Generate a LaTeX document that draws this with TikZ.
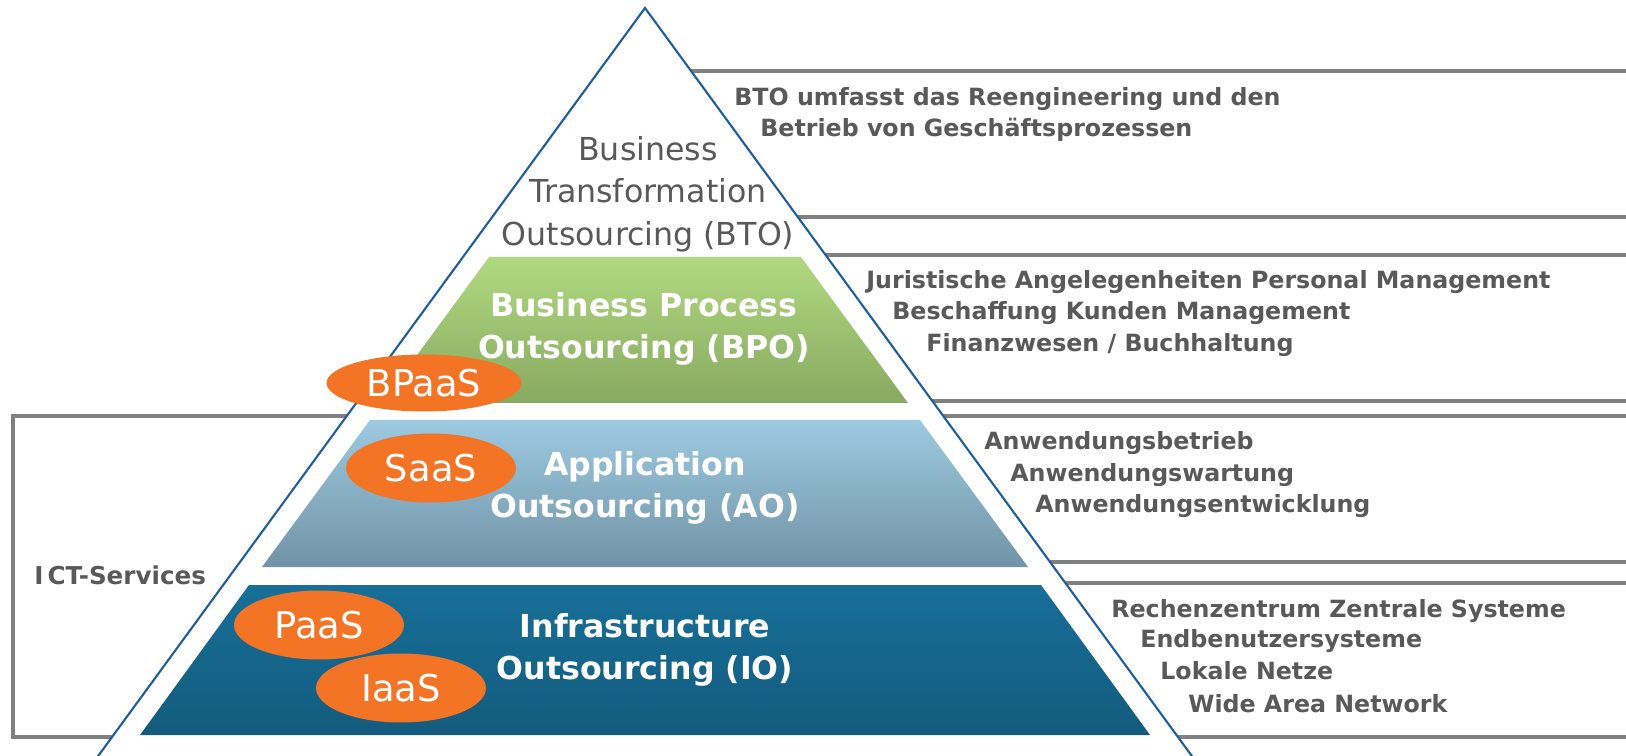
\documentclass[tikz,border=0pt]{standalone}
\usepackage{fontspec}
\setmainfont{DejaVu Sans}
\usepackage{tikz}
\usetikzlibrary{shapes.geometric}

\definecolor{linegray}{HTML}{808080}
\definecolor{textgray}{HTML}{595959}
\definecolor{pyrblue}{HTML}{1F5E9A}
\definecolor{aasorange}{HTML}{F27424}
\definecolor{bpotop}{HTML}{B0D97F}
\definecolor{bpobot}{HTML}{88A961}
\definecolor{aotop}{HTML}{9DCAE1}
\definecolor{aobot}{HTML}{7193A6}
\definecolor{iotop}{HTML}{176F98}
\definecolor{iobot}{HTML}{135B7D}

\begin{document}
\begin{tikzpicture}[x=0.02cm, y=-0.02cm,
    tierbox/.style={draw=linegray, line width=2pt},
    desc/.style={anchor=base west, inner sep=0pt, text=textgray,
      font=\fontsize{13.5}{16}\selectfont\bfseries},
    layer/.style={text=white, align=center,
      font=\fontsize{18}{23.6}\selectfont\bfseries},
    aas/.style={ellipse, fill=aasorange, text=white, inner sep=0pt,
      minimum width=3.4cm, minimum height=1.38cm,
      font=\fontsize{21}{21}\selectfont}]

    \useasboundingbox (0,0) rectangle (1626,756);
    \clip (0,0) rectangle (1626,756);

    % boxes behind the pyramid
    \draw[tierbox] (645,71)  rectangle (1700,217);
    \draw[tierbox] (645,255) rectangle (1700,401);
    \draw[tierbox] (645,416) rectangle (1700,562);
    \draw[tierbox] (645,583) rectangle (1700,737);
    \draw[tierbox] (13,416)  rectangle (645,737);

    % pyramid
    \draw[pyrblue, line width=1.2pt, fill=white] (645,8) -- (66,800) -- (1224,800) -- cycle;

    \shade[top color=bpotop, bottom color=bpobot] (489,257) -- (801,257) -- (908,403) -- (382,403) -- cycle;
    \shade[top color=aotop, bottom color=aobot] (370,420) -- (920,420) -- (1028,567) -- (262,567) -- cycle;
    \shade[top color=iotop, bottom color=iobot] (249,585) -- (1041,585) -- (1150,735) -- (140,735) -- cycle;

    \node[text=textgray, align=center, font=\fontsize{18}{24.2}\selectfont] (bto) at (648,194)
      {Business\\Transformation\\Outsourcing (BTO)};
    \node[layer] (bpo) at (644,329) {Business Process\\Outsourcing (BPO)};
    \node[layer] (ao)  at (645,488) {Application\\Outsourcing (AO)};
    \node[layer] (io)  at (645,650) {Infrastructure\\Outsourcing (IO)};

    \node[aas, minimum width=3.9cm, minimum height=1.14cm] (bpaas) at (424,383) {BPaaS};
    \node[aas] (saas) at (431,468) {SaaS};
    \node[aas] (paas) at (319,625) {PaaS};
    \node[aas] (iaas) at (401,688) {IaaS};

    \node[desc] (bto1) at (734,106) {BTO umfasst das Reengineering und den};
    \node[desc] (bto2) at (760,137) {Betrieb von Geschäftsprozessen};

    \node[desc] (bpo1) at (866,289) {Juristische Angelegenheiten Personal Management};
    \node[desc] (bpo2) at (892,320) {Beschaffung Kunden Management};
    \node[desc] (bpo3) at (926,352) {Finanzwesen / Buchhaltung};

    \node[desc] (ao1) at (984,450)  {Anwendungsbetrieb};
    \node[desc] (ao2) at (1010,482) {Anwendungswartung};
    \node[desc] (ao3) at (1035,513) {Anwendungsentwicklung};

    \node[desc] (io1) at (1111,617) {Rechenzentrum Zentrale Systeme};
    \node[desc] (io2) at (1140,647) {Endbenutzersysteme};
    \node[desc] (io3) at (1160,679) {Lokale Netze};
    \node[desc] (io4) at (1188,712) {Wide Area Network};

    \node[desc, font=\fontsize{14}{16}\selectfont\bfseries] (ict) at (34,584) {I\,CT-Services};

  \end{tikzpicture}
\end{document}
